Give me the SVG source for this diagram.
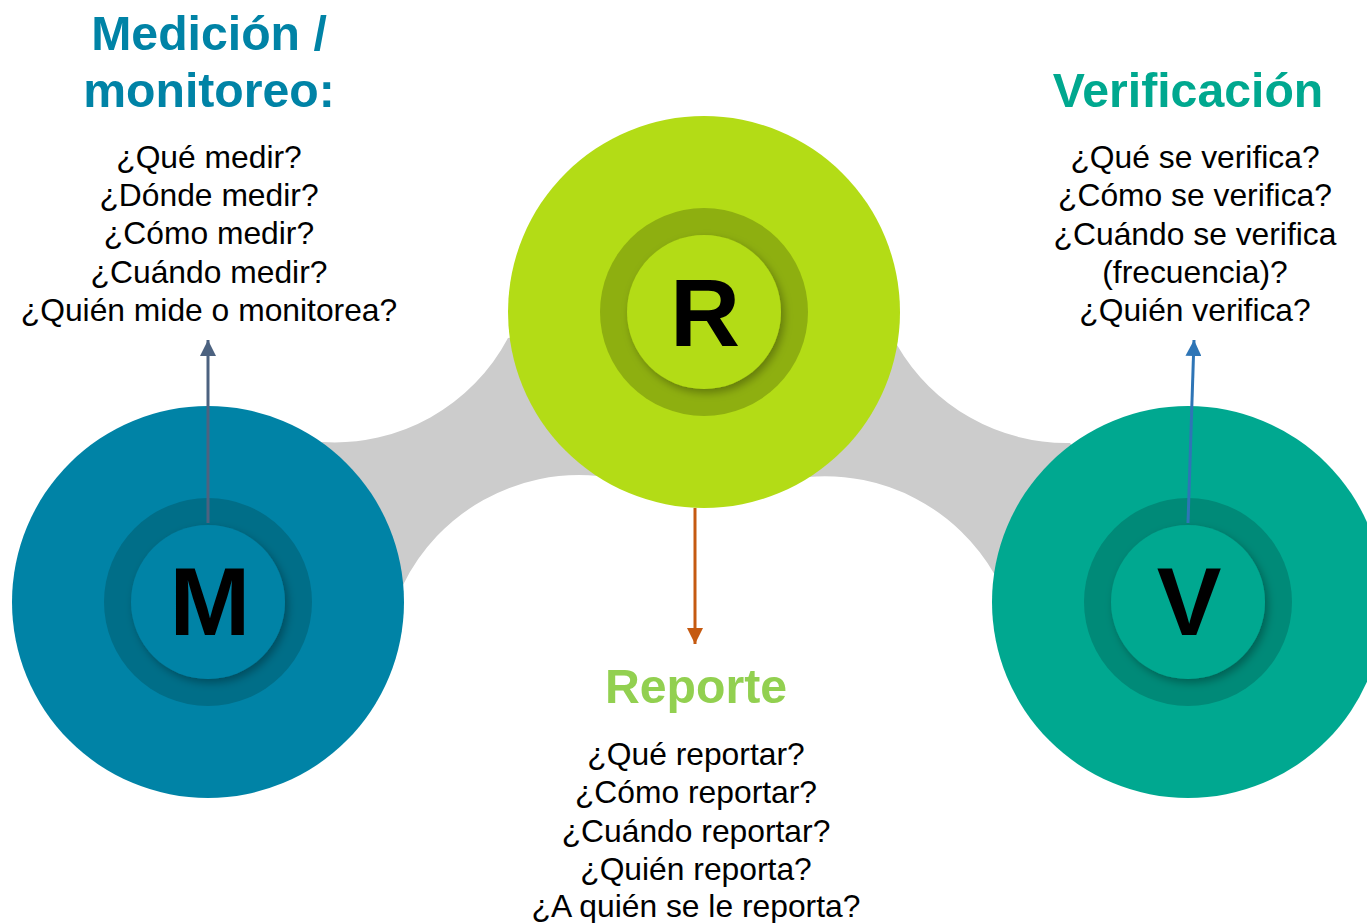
<svg xmlns="http://www.w3.org/2000/svg" width="1367" height="923" viewBox="0 0 1367 923">
  <style>
    .title { font-family: "Liberation Sans", Arial, sans-serif; font-weight: bold; font-size: 48.2px; text-anchor: middle; }
    .body { font-family: "Liberation Sans", Arial, sans-serif; font-size: 31.8px; fill: #000; text-anchor: middle; }
    .letter { font-family: "Liberation Sans", Arial, sans-serif; font-weight: bold; font-size: 97px; fill: #000; text-anchor: middle; }
    .bridge { fill: #CCCCCC; }
  </style>
  <defs>
    <filter id="sh" x="-20%" y="-20%" width="150%" height="150%">
      <feDropShadow dx="3" dy="4" stdDeviation="4" flood-color="#000" flood-opacity="0.3"/>
    </filter>
    <marker id="aM" markerUnits="userSpaceOnUse" markerWidth="16" markerHeight="16" refX="16" refY="8" orient="auto">
      <path d="M0,0 L16,8 L0,16 Z" fill="#4C6280"/>
    </marker>
    <marker id="aR" markerUnits="userSpaceOnUse" markerWidth="16" markerHeight="16" refX="16" refY="8" orient="auto">
      <path d="M0,0 L16,8 L0,16 Z" fill="#C55A11"/>
    </marker>
    <marker id="aV" markerUnits="userSpaceOnUse" markerWidth="16" markerHeight="16" refX="16" refY="8" orient="auto">
      <path d="M0,0 L16,8 L0,16 Z" fill="#2E75B6"/>
    </marker>
  </defs>
  <rect width="1367" height="923" fill="#FFFFFF"/>

  <g id="bridges">
    <path class="bridge" d="M322,442 A196,196 0 0 0 508,338 L704,312 L598,476 A196,196 0 0 0 403,585 L208,602 Z"/>
    <path class="bridge" d="M897,345 A196,196 0 0 0 1070,443 L1188,602 L995,575 A196,196 0 0 0 808,477 L704,312 Z"/>
  </g>

  <g id="node-M">
    <circle cx="208" cy="602" r="196" fill="#0083A6"/>
    <circle cx="208" cy="602" r="104" fill="#006E88"/>
    <circle cx="208" cy="602" r="77" fill="#0083A6" filter="url(#sh)"/>
    <text class="letter" x="210" y="635">M</text>
  </g>

  <g id="node-R">
    <circle cx="704" cy="312" r="196" fill="#B3DC16"/>
    <circle cx="704" cy="312" r="104" fill="#8EAF10"/>
    <circle cx="704" cy="312" r="77" fill="#B3DC16" filter="url(#sh)"/>
    <text class="letter" x="705" y="346">R</text>
  </g>

  <g id="node-V">
    <circle cx="1188" cy="602" r="196" fill="#00A890"/>
    <circle cx="1188" cy="602" r="104" fill="#008A78"/>
    <circle cx="1188" cy="602" r="77" fill="#00A890" filter="url(#sh)"/>
    <text class="letter" x="1189" y="635">V</text>
  </g>

  <g id="connectors" fill="none" stroke-width="3">
    <line x1="208" y1="523" x2="208" y2="340" stroke="#4C6280" marker-end="url(#aM)"/>
    <line x1="695" y1="508" x2="695" y2="644" stroke="#C55A11" marker-end="url(#aR)"/>
    <line x1="1188" y1="523" x2="1194" y2="340" stroke="#2E75B6" marker-end="url(#aV)"/>
  </g>

  <g id="label-medicion">
    <text class="title" fill="#0083A6" x="209" y="50">Medición /</text>
    <text class="title" fill="#0083A6" x="209" y="107">monitoreo:</text>
    <text class="body" x="209" y="168">¿Qué medir?</text>
    <text class="body" x="209" y="206">¿Dónde medir?</text>
    <text class="body" x="209" y="244">¿Cómo medir?</text>
    <text class="body" x="209" y="283">¿Cuándo medir?</text>
    <text class="body" x="209" y="321">¿Quién mide o monitorea?</text>
  </g>

  <g id="label-verificacion">
    <text class="title" fill="#00A88F" x="1188" y="107">Verificación</text>
    <text class="body" x="1195" y="168">¿Qué se verifica?</text>
    <text class="body" x="1195" y="206">¿Cómo se verifica?</text>
    <text class="body" x="1195" y="245">¿Cuándo se verifica</text>
    <text class="body" x="1195" y="283">(frecuencia)?</text>
    <text class="body" x="1195" y="321">¿Quién verifica?</text>
  </g>

  <g id="label-reporte">
    <text class="title" fill="#92D050" x="696" y="703">Reporte</text>
    <text class="body" x="696" y="765">¿Qué reportar?</text>
    <text class="body" x="696" y="803">¿Cómo reportar?</text>
    <text class="body" x="696" y="842">¿Cuándo reportar?</text>
    <text class="body" x="696" y="880">¿Quién reporta?</text>
    <text class="body" x="696" y="917">¿A quién se le reporta?</text>
  </g>
</svg>
